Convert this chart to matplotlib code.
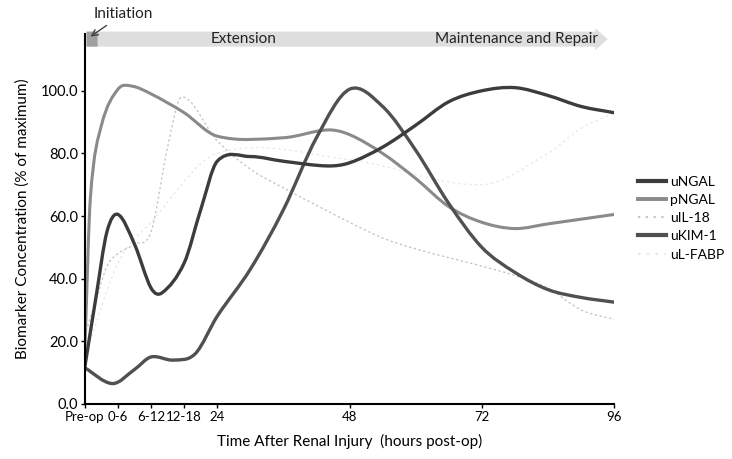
import matplotlib
matplotlib.use('Agg')
import matplotlib.pyplot as plt
import matplotlib.transforms as mtransforms
from matplotlib.path import Path
from matplotlib.patches import PathPatch, FancyArrow
from matplotlib.lines import Line2D

plt.rcParams['font.family'] = ['Lato', 'DejaVu Sans']

tick_hours = [0, 6, 12, 18, 24, 48, 72, 96]
tick_labels = ['Pre-op', '0-6', '6-12', '12-18', '24', '48', '72', '96']

# values (% of maximum) at the given hours
pngal_h = [0, 1, 3, 6, 8.5, 12, 18, 24, 36, 44, 48, 54, 60, 66, 72, 78, 84, 96]
pngal = [18, 66, 89, 100.5, 101.5, 99, 93, 85.5, 85, 87.5, 86, 80, 72, 63, 58, 56, 57.5, 60.5]

ungal_h = [0, 2, 4, 6, 9, 12, 14, 18, 21, 24, 30, 36, 44, 48, 54, 60, 66, 72, 78, 84, 90, 96]
ungal = [12, 34, 55, 60.5, 51, 37, 35.5, 45, 62, 77.5, 79, 77.5, 76, 77, 82, 89, 96.5, 100, 101, 98.5, 95, 93]

ukim_h = [0, 5, 9, 12, 16, 20, 24, 30, 36, 42, 48, 54, 60, 66, 72, 78, 84, 90, 96]
ukim = [11.5, 6.5, 11, 15, 14, 16, 28, 43, 62, 85, 100.5, 95, 81, 64, 50, 42, 36.5, 34, 32.5]

uil18_h = [0, 2, 4, 6, 9, 12, 15, 17.5, 24, 30, 36, 48, 54, 60, 72, 78, 84, 90, 96]
uil18 = [22, 33, 44, 48, 51, 55, 82, 98, 84, 75, 69, 58, 53, 49.5, 44, 41, 37, 30, 27]

ulfabp_h = [0, 6, 12, 24, 48, 72, 84, 90, 96]
ulfabp = [15, 45, 58, 80, 78, 70, 80, 88, 93]

yticks = [0, 20, 40, 60, 80, 100]


def smooth_path(xs, ys):
    # cubic Hermite segments drawn as Bezier curves
    n = len(xs)
    slopes = []
    for i in range(n):
        if i == 0:
            m = (ys[1] - ys[0]) / (xs[1] - xs[0])
        elif i == n - 1:
            m = (ys[-1] - ys[-2]) / (xs[-1] - xs[-2])
        else:
            m = (ys[i + 1] - ys[i - 1]) / (xs[i + 1] - xs[i - 1])
        slopes.append(m)
    verts = [(xs[0], ys[0])]
    codes = [Path.MOVETO]
    for i in range(n - 1):
        h = xs[i + 1] - xs[i]
        verts.append((xs[i] + h / 3, ys[i] + slopes[i] * h / 3))
        verts.append((xs[i + 1] - h / 3, ys[i + 1] - slopes[i + 1] * h / 3))
        verts.append((xs[i + 1], ys[i + 1]))
        codes += [Path.CURVE4] * 3
    return Path(verts, codes)


fig = plt.figure(figsize=(7.32, 4.59), dpi=100)
ax = fig.add_axes([0.116, 0.120, 0.723, 0.805])

series = [
    ('uL-FABP', ulfabp_h, ulfabp, '#e8e8e8', 1.0, (0, (1, 3))),
    ('uIL-18', uil18_h, uil18, '#c6c6c6', 1.0, (0, (1, 2.5))),
    ('pNGAL', pngal_h, pngal, '#8a8a8a', 2.2, '-'),
    ('uKIM-1', ukim_h, ukim, '#505050', 2.4, '-'),
    ('uNGAL', ungal_h, ungal, '#3c3c3c', 2.4, '-'),
]
handles = {}
for name, xs, ys, color, lw, ls in series:
    patch = PathPatch(smooth_path(xs, ys), fill=False, edgecolor=color,
                      linewidth=lw, linestyle=ls, capstyle='round')
    ax.add_patch(patch)
    handles[name] = Line2D([], [], color=color, linewidth=lw + 0.6, linestyle=ls)

ax.set_xlim(0, 96)
ax.set_ylim(0, 118)
ax.set_xticks(tick_hours)
ax.set_xticklabels(tick_labels, fontsize=9.5)
shift = mtransforms.ScaledTranslation(-3 / 100, 0, fig.dpi_scale_trans)
for lbl in ax.get_xticklabels():
    lbl.set_transform(lbl.get_transform() + shift)
ax.set_yticks(yticks)
ax.set_yticklabels(['%.1f' % v for v in yticks], fontsize=10.5)
ax.spines['top'].set_visible(False)
ax.spines['right'].set_visible(False)
ax.spines['left'].set_linewidth(1.5)
ax.spines['bottom'].set_linewidth(1.5)
ax.tick_params(length=3, width=1, pad=2)
ax.set_xlabel('Time After Renal Injury  (hours post-op)', fontsize=11, labelpad=8)
ax.set_ylabel('Biomarker Concentration (% of maximum)', fontsize=11, labelpad=8)

# phase arrow across the top
ax.add_patch(FancyArrow(0.3, 116.5, 94.5, 0, width=4.8, head_width=7, head_length=2.2,
                        length_includes_head=True, facecolor='#dedede',
                        edgecolor='none', clip_on=False))
ax.add_patch(FancyArrow(0.3, 116.5, 2.0, 0, width=4.8, head_width=0.01, head_length=0.01,
                        facecolor='#a0a0a0', edgecolor='none', clip_on=False))
ax.text(28.7, 116.5, 'Extension', ha='center', va='center', fontsize=11, color='#222222')
ax.text(78.3, 116.5, 'Maintenance and Repair', ha='center', va='center',
        fontsize=11, color='#222222')
ax.annotate('Initiation', xy=(0.6, 116.8), xytext=(1.5, 124.5), fontsize=11,
            ha='left', va='center', color='#222222', annotation_clip=False,
            arrowprops=dict(arrowstyle='->', color='#444444', lw=1))

order = ['uNGAL', 'pNGAL', 'uIL-18', 'uKIM-1', 'uL-FABP']
fig.legend([handles[k] for k in order], order, loc='center left',
           bbox_to_anchor=(0.872, 0.525), frameon=False, fontsize=10,
           handlelength=2.0, handletextpad=0.3, labelspacing=0.45,
           borderaxespad=0, borderpad=0)

fig.savefig('out.png', dpi=100)
